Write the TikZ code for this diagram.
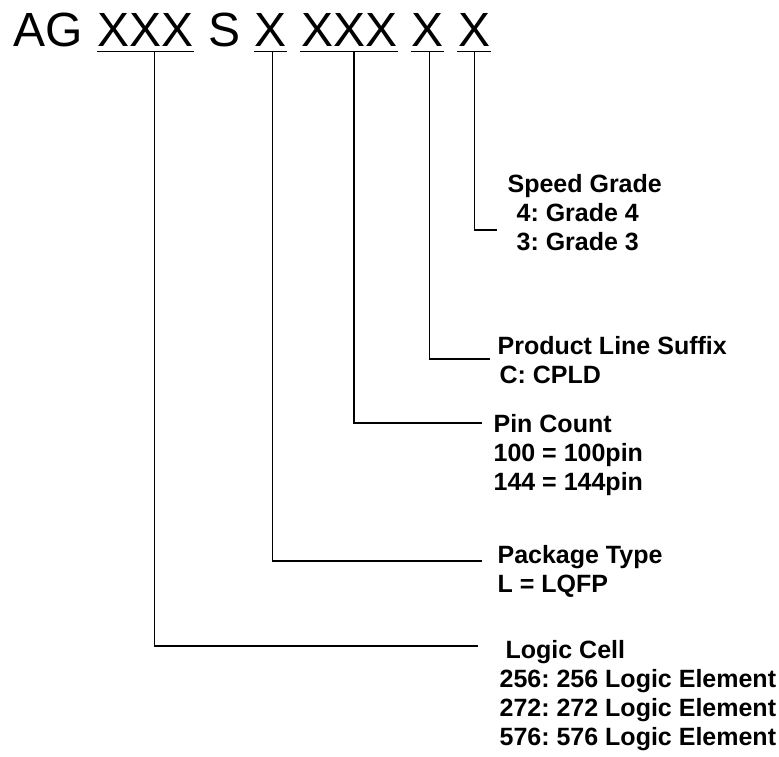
\documentclass[tikz,border=0pt]{standalone}
\usepackage{fontspec}
\setmainfont{Liberation Sans}
\usetikzlibrary{positioning}
\frenchspacing

\begin{document}
\begin{tikzpicture}[ x=1pt , y=-1pt , line width=1.2pt , node distance=13.3pt ,
  part/.style={ inner sep=0pt , font=\fontsize{48}{48}\selectfont },
  info/.style={ inner sep=0pt , anchor=north west , align=left , font=\fontsize{25}{29}\selectfont\bfseries } ]
\useasboundingbox (0,0) rectangle (779,756);
\node [ part , anchor=base west ] (ag) at (13,46) {AG};
\node [ part ] (cell) [ base right = of ag ] {XXX};
\node [ part ] (s) [ base right = of cell ] {S};
\node [ part ] (pkg) [ base right = of s ] {X};
\node [ part ] (pin) [ base right = of pkg ] {XXX};
\node [ part ] (suf) [ base right = of pin ] {X};
\node [ part ] (spd) [ base right = of suf ] {X};
\foreach \p in {cell,pkg,pin,suf,spd}
  \draw ([yshift=-5pt]\p.south west) -- ([yshift=-5pt]\p.south east);
\node [ info ] (spdinfo) at (507,174) {Speed Grade\\\hspace*{9pt}4: Grade 4\\\hspace*{9pt}3: Grade 3};
\node [ info ] (sufinfo) at (497,336) {Product Line Suffix\\\hspace*{2pt}C: CPLD};
\node [ info ] (pininfo) at (493,414) {Pin Count\\100 = 100pin\\144 = 144pin};
\node [ info ] (pkginfo) at (497,545) {Package Type\\L = LQFP};
\node [ info ] (cellinfo) at (499,640) {\hspace*{6pt}Logic Cell\\256: 256 Logic Element\\272: 272 Logic Element\\576: 576 Logic Element};
% leader lines
\draw (spd.south) ++(0,5) |- ([shift={(-10,56)}]spdinfo.north west);
\draw (suf.south) ++(2,5) |- ([shift={(-7,23)}]sufinfo.north west);
\draw (pin.south) ++(5,5) |- ([shift={(-11,9)}]pininfo.north west);
\draw (pkg.south) ++(2,5) |- ([shift={(-15,16)}]pkginfo.north west);
\draw (cell.south) ++(9,5) |- ([shift={(-21,6)}]cellinfo.north west);
\end{tikzpicture}
\end{document}
